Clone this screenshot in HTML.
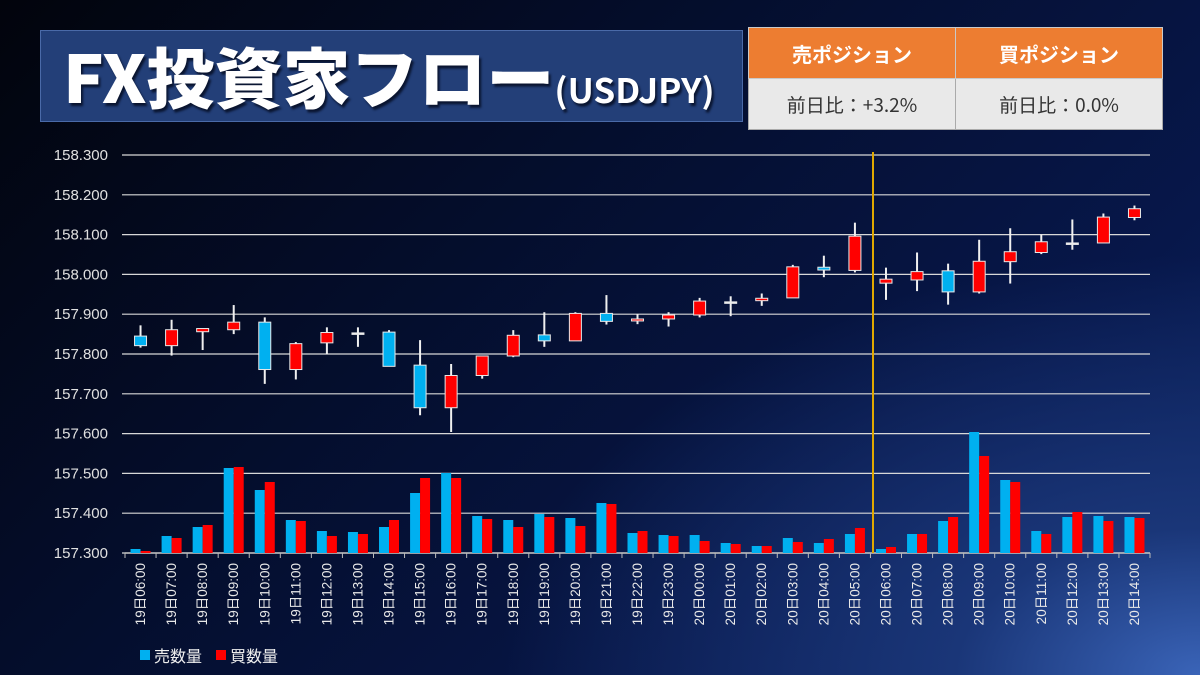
<!DOCTYPE html>
<html><head><meta charset="utf-8">
<style>
html,body{margin:0;padding:0;}
body{width:1200px;height:675px;overflow:hidden;position:relative;font-family:"Liberation Sans","Noto Sans CJK JP",sans-serif;
background:radial-gradient(ellipse 700px 420px at 1200px 675px,#3a64b8 0%,#1a3678 35%,rgba(8,20,60,0) 100%),linear-gradient(135deg,#02040c 0%,#040d2a 35%,#07174a 75%,#0b2260 100%);}
#title{position:absolute;left:40px;top:30px;width:703px;height:92px;background:#233f78;border:1px solid #4a6aa8;box-sizing:border-box;color:#fff;font-family:"Noto Sans CJK JP",sans-serif;font-weight:900;overflow:hidden;}
#title .big{position:absolute;left:22px;top:-4px;font-size:66px;letter-spacing:0px;text-shadow:2px 3px 2px #0a1530;white-space:nowrap;transform:scale(1.03,1.0);transform-origin:left top;}
#title .big small{font-size:34px;font-weight:700;}
table{position:absolute;left:748px;top:27px;border-collapse:collapse;font-family:"Noto Sans CJK JP",sans-serif;}
th{background:#ed7d31;color:#fff;font-size:20px;font-weight:700;height:50px;width:206px;border:1px solid #c9c9c9;padding:0;}
td{background:#e9e9e9;color:#333;font-size:19px;height:50px;border:1px solid #aaa;text-align:center;padding:0;}
svg{position:absolute;left:0;top:0;}
</style></head><body>
<div id="title"><div class="big">FX投資家フロー<small>(USDJPY)</small></div></div>
<table>
<tr><th>売ポジション</th><th>買ポジション</th></tr>
<tr><td>前日比：+3.2%</td><td>前日比：0.0%</td></tr>
</table>
<svg id="chart" width="1200" height="675"></svg>
<script>
const categories=["19日06:00","19日07:00","19日08:00","19日09:00","19日10:00","19日11:00","19日12:00","19日13:00","19日14:00","19日15:00","19日16:00","19日17:00","19日18:00","19日19:00","19日20:00","19日21:00","19日22:00","19日23:00","20日00:00","20日01:00","20日02:00","20日03:00","20日04:00","20日05:00","20日06:00","20日07:00","20日08:00","20日09:00","20日10:00","20日11:00","20日12:00","20日13:00","20日14:00"];
const openP=[157.845,157.821,157.856,157.861,157.880,157.761,157.828,157.853,157.855,157.772,157.665,157.746,157.795,157.848,157.833,157.902,157.883,157.888,157.898,157.931,157.934,157.941,158.018,158.010,157.978,157.986,158.009,157.956,158.032,158.055,158.079,158.079,158.143];
const highP=[157.872,157.886,157.864,157.923,157.892,157.830,157.867,157.867,157.860,157.835,157.775,157.795,157.860,157.905,157.905,157.948,157.900,157.905,157.941,157.945,157.952,158.024,158.047,158.130,158.017,158.055,158.027,158.087,158.116,158.100,158.138,158.153,158.173];
const lowP=[157.816,157.796,157.810,157.850,157.725,157.736,157.800,157.818,157.769,157.646,157.604,157.738,157.792,157.818,157.833,157.874,157.875,157.869,157.892,157.895,157.921,157.941,157.993,158.005,157.936,157.958,157.924,157.952,157.977,158.051,158.062,158.079,158.136];
const closeP=[157.821,157.861,157.864,157.880,157.761,157.826,157.854,157.853,157.769,157.665,157.746,157.795,157.847,157.833,157.902,157.882,157.888,157.898,157.933,157.931,157.940,158.019,158.011,158.096,157.988,158.007,157.956,158.033,158.057,158.082,158.079,158.144,158.165];
const sellVol=[4,17,26,85,63,33,22,21,26,60,80,37,33,39,35,50,20,18,18,10,7,15,10,19,4,19,32,121,73,22,36,37,36];
const buyVol=[2,15,28,86,71,32,17,19,33,75,75,34,26,36,27,49,22,17,12,9,7,11,14,25,6,19,36,97,71,19,41,32,35];
const yTicks=["157.300","157.400","157.500","157.600","157.700","157.800","157.900","158.000","158.100","158.200","158.300"];
const yMin=157.3,yMax=158.3,volMax=398;
const X0=125,X1=1150,Y0=553,Y1=155,N=categories.length,band=(X1-X0)/N;
const xC=i=>X0+band*(i+0.5);
const yP=v=>Y0-(v-yMin)/(yMax-yMin)*(Y0-Y1);
const yV=v=>Y0-v/volMax*(Y0-Y1);
const svg=document.getElementById('chart');const NS='http://www.w3.org/2000/svg';
function mk(t,a,p){const e=document.createElementNS(NS,t);for(const k in a)e.setAttribute(k,a[k]);(p||svg).appendChild(e);return e;}
yTicks.forEach(t=>{const y=yP(parseFloat(t));
const g=mk('line',{x1:X0-3,x2:X1,y1:y,y2:y,stroke:'#d8d8d8','stroke-width':1.2});


const tx=mk('text',{x:108,y:y+5,'text-anchor':'end','font-size':15,fill:'#e0e0e0'});tx.textContent=t;

});
const ax=mk('line',{x1:X0,x2:X1,y1:Y0,y2:Y0,stroke:'#bbb','stroke-width':1.5});


for(let i=0;i<=N;i++){const t=mk('line',{x1:X0+band*i,x2:X0+band*i,y1:Y0,y2:Y0+5,stroke:'#bbb'});

}
categories.forEach((c,i)=>{const x=xC(i);
const b=mk('rect',{x:x-10,y:yV(sellVol[i]),width:10,height:Y0-yV(sellVol[i]),fill:'#00b0f0'});


const r=mk('rect',{x:x,y:yV(buyVol[i]),width:10,height:Y0-yV(buyVol[i]),fill:'#ff0000'});


const tx=mk('text',{x:0,y:0,'font-size':13.5,fill:'#e8e8e8','text-anchor':'end',transform:`translate(${x+4.5},563) rotate(-90)`});tx.textContent=c;

});
const vl=mk('line',{x1:873,x2:873,y1:152,y2:Y0,stroke:'#e0a800','stroke-width':2});


categories.forEach((c,i)=>{const x=xC(i),o=openP[i],cl=closeP[i];
const w=mk('line',{x1:x,x2:x,y1:yP(highP[i]),y2:yP(lowP[i]),stroke:'#f0f0f0','stroke-width':2});


const top=yP(Math.max(o,cl)),bot=yP(Math.min(o,cl));const h=Math.max(bot-top,1.5);
const fill=cl>o?'#ff0000':(cl<o?'#00b0f0':'#f0f0f0');
const bd=mk('rect',{x:x-6,y:top,width:12,height:h,fill:fill,stroke:'#e8e8e8','stroke-width':1});

});
const lg=[['#00b0f0','売数量',140,'legend-sell'],['#ff0000','買数量',216,'legend-buy']];
lg.forEach(l=>{const r=mk('rect',{x:l[2],y:650,width:10,height:10,fill:l[0]});


const t=mk('text',{x:l[2]+14,y:662,'font-size':16,fill:'#eee'});t.textContent=l[1];

});
</script>
</body></html>
